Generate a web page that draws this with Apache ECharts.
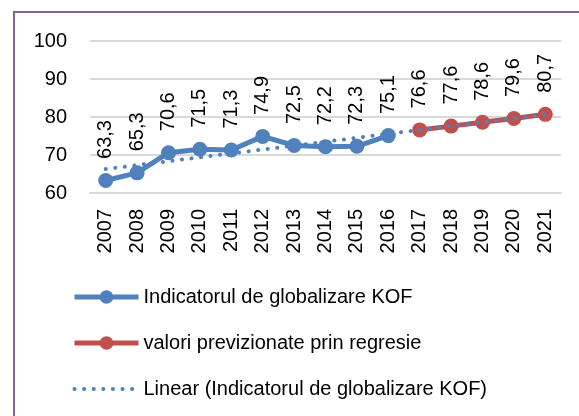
<!DOCTYPE html>
<html>
<head>
<meta charset="utf-8">
<script src="https://cdn.jsdelivr.net/npm/echarts@6/dist/echarts.min.js"></script>
<style>
  html, body { margin: 0; padding: 0; background: #fff; }
  #chart { width: 579px; height: 416px; }
</style>
</head>
<body>
<div id="chart"></div>
<script>
// ani (axa X)
var years = ['2007', '2008', '2009', '2010', '2011', '2012', '2013', '2014',
             '2015', '2016', '2017', '2018', '2019', '2020', '2021'];

// valori observate 2007-2016
var kofValues = [63.3, 65.3, 70.6, 71.5, 71.3, 74.9, 72.5, 72.2, 72.3, 75.1,
                 null, null, null, null, null];

// valori previzionate 2017-2021
var forecastValues = [null, null, null, null, null, null, null, null, null, null,
                      76.6, 77.6, 78.6, 79.6, 80.7];

// capetele liniei de tendinta
var trendYears = ['2007', '2021'];
var trendValues = [66.3, 80.7];

var seriesNames = [
    'Indicatorul de globalizare KOF',
    'valori previzionate prin regresie',
    'Linear (Indicatorul de globalizare KOF)'
];

var blue = '#4F81BD';
var red = '#C0504D';
var font = 'Liberation Sans';

var chart = echarts.init(document.getElementById('chart'));

var labelStyle = {
    show: true,
    position: 'top',
    rotate: 90,
    align: 'left',
    verticalAlign: 'middle',
    distance: 14,
    color: '#000',
    fontFamily: font,
    fontSize: 20,
    formatter: function (p) {
        return p.value == null ? '' : String(p.value).replace('.', ',');
    }
};

var dotted = [0.1, 9.5];

chart.setOption({
    animation: false,
    textStyle: { fontFamily: font },
    graphic: [{
        type: 'rect',
        shape: { x: 14, y: 12, width: 620, height: 460 },
        style: { fill: null, stroke: '#8064A2', lineWidth: 2 },
        silent: true
    }],
    grid: { left: 90, right: 18, top: 41, bottom: 223 },
    legend: {
        orient: 'vertical',
        left: 67,
        top: 282,
        itemWidth: 64,
        itemHeight: 17,
        itemGap: 26,
        textStyle: { fontFamily: font, fontSize: 20, color: '#000' },
        data: [
            { name: seriesNames[0], lineStyle: { width: 5 } },
            { name: seriesNames[1], lineStyle: { width: 5 } },
            { name: seriesNames[2], lineStyle: { width: 4 }, itemStyle: { opacity: 0 } }
        ]
    },
    xAxis: {
        type: 'category',
        data: years,
        boundaryGap: true,
        axisLine: { show: true, lineStyle: { color: '#D9D9D9', width: 2 } },
        axisTick: { show: false },
        axisLabel: {
            rotate: 90,
            margin: 16,
            color: '#000',
            fontFamily: font,
            fontSize: 20
        }
    },
    yAxis: {
        type: 'value',
        min: 60,
        max: 100,
        interval: 10,
        axisLine: { show: false },
        axisTick: { show: false },
        axisLabel: { margin: 23, color: '#000', fontFamily: font, fontSize: 20 },
        splitLine: { lineStyle: { color: '#D9D9D9', width: 2 } }
    },
    series: [{
        name: seriesNames[0],
        type: 'line',
        data: kofValues,
        symbol: 'circle',
        symbolSize: 15,
        lineStyle: { color: blue, width: 5 },
        itemStyle: { color: blue },
        label: labelStyle,
        z: 2
    }, {
        name: seriesNames[1],
        type: 'line',
        data: forecastValues,
        symbol: 'circle',
        symbolSize: 15,
        lineStyle: { color: red, width: 5 },
        itemStyle: { color: red },
        label: labelStyle,
        z: 2
    }, {
        name: seriesNames[2],
        type: 'line',
        data: trendYears.map(function (y, i) { return [y, trendValues[i]]; }),
        symbol: 'none',
        lineStyle: { color: blue, width: 4, type: dotted, cap: 'round' },
        itemStyle: { color: blue },
        z: 5
    }]
});
</script>
</body>
</html>
